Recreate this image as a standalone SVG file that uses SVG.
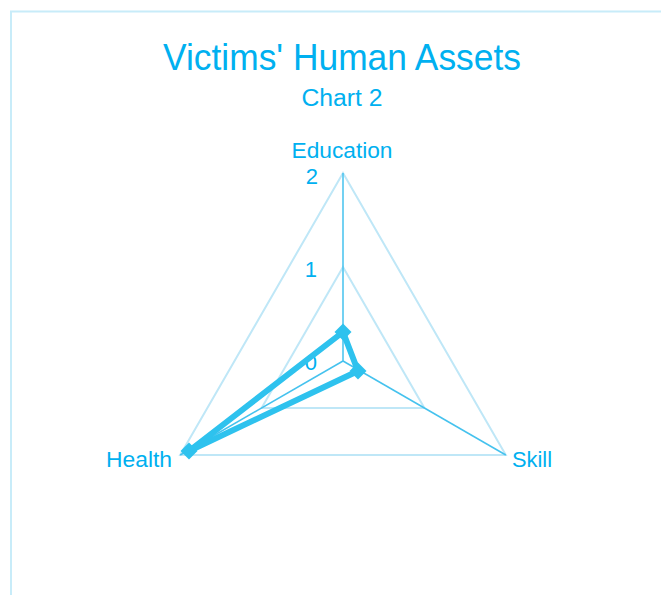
<svg xmlns="http://www.w3.org/2000/svg" width="661" height="595" viewBox="0 0 661 595">
<style>
.t{font-family:"Liberation Sans","DejaVu Sans",sans-serif;fill:#00b0f0}
.grid{fill:none;stroke:#bfe7f7;stroke-width:2}
.axis{stroke:#45c2ee;stroke-width:1.5}
</style>
<rect width="661" height="595" fill="#fff"/>
<rect x="11" y="11.5" width="700" height="640" fill="none" stroke="#c8ecf9" stroke-width="2"/>
<g id="title">
<text class="t" x="342" y="70" font-size="36" text-anchor="middle" textLength="358" lengthAdjust="spacingAndGlyphs">Victims' Human Assets</text>
<text class="t" x="342" y="106" font-size="23" text-anchor="middle" textLength="81" lengthAdjust="spacingAndGlyphs">Chart 2</text>
</g>
<g id="grid">
<polygon class="grid" points="343,173 505.8,455 180.2,455"/>
<polygon class="grid" points="343,267 424.4,408 261.6,408"/>
</g>
<g id="connectors">
<line class="axis" x1="343" y1="361" x2="343" y2="173"/>
<line class="axis" x1="343" y1="361" x2="505.8" y2="455"/>
<line class="axis" x1="343" y1="361" x2="180.2" y2="455"/>
</g>
<g id="scale">
<text class="t" x="318" y="184" font-size="22" text-anchor="end">2</text>
<text class="t" x="317" y="277" font-size="22" text-anchor="end">1</text>
<text class="t" x="317" y="370" font-size="22" text-anchor="end">0</text>
</g>
<g id="labels">
<text id="education" class="t" x="342" y="158" font-size="22" text-anchor="middle" textLength="101" lengthAdjust="spacingAndGlyphs">Education</text>
<text id="health" class="t" x="106" y="467" font-size="22" textLength="66" lengthAdjust="spacingAndGlyphs">Health</text>
<text id="skill" class="t" x="512" y="467" font-size="22" textLength="40" lengthAdjust="spacingAndGlyphs">Skill</text>
</g>
<g id="series">
<polygon points="343,332 358,371 189,451" fill="none" stroke="#2ec2ee" stroke-width="6" stroke-linejoin="round"/>
<rect x="337" y="326" width="12" height="12" fill="#2ec2ee" transform="rotate(45 343 332)"/>
<rect x="352" y="365" width="12" height="12" fill="#2ec2ee" transform="rotate(45 358 371)"/>
<rect x="183" y="445" width="12" height="12" fill="#2ec2ee" transform="rotate(45 189 451)"/>
</g>
</svg>
